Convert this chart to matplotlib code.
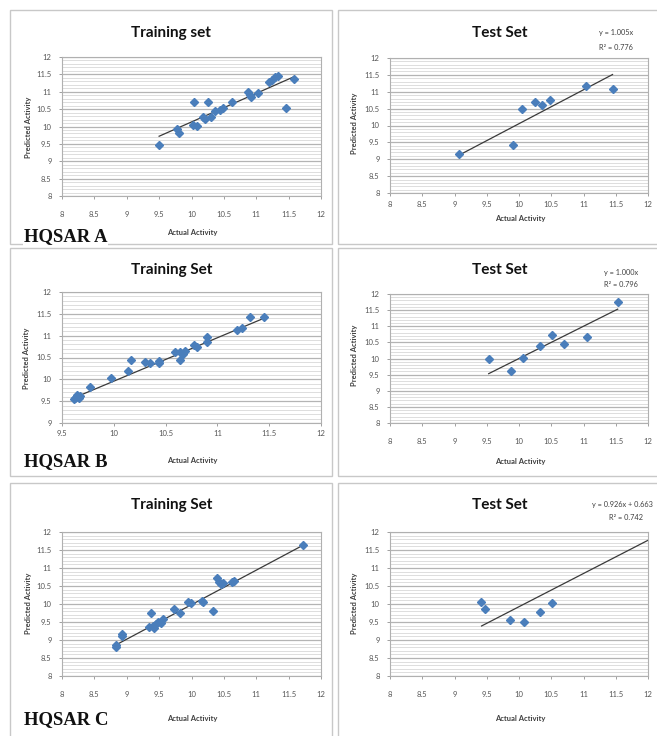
import matplotlib
matplotlib.use("Agg")
import matplotlib.pyplot as plt
from matplotlib.patches import Rectangle
from matplotlib.ticker import MultipleLocator, FormatStrFormatter

W, H = 657, 736

# HQSAR A
a_train_x = [9.50, 9.78, 9.80, 10.04, 10.03, 10.09, 10.17, 10.21, 10.26, 10.30, 10.37, 10.44,
             10.49, 10.62, 10.88, 10.91, 10.92, 11.03, 11.19, 11.24, 11.29, 11.34, 11.46, 11.58]
a_train_y = [9.48, 9.94, 9.80, 10.71, 10.04, 10.01, 10.28, 10.23, 10.71, 10.28, 10.44, 10.47,
             10.53, 10.71, 10.99, 10.92, 10.85, 10.95, 11.28, 11.33, 11.43, 11.45, 10.52, 11.36]
a_train_fit_x = [9.50, 11.58]
a_train_fit_y = [9.72, 11.43]

a_test_x = [9.07, 9.90, 10.04, 10.25, 10.35, 10.48, 11.04, 11.45]
a_test_y = [9.15, 9.41, 10.50, 10.70, 10.60, 10.75, 11.16, 11.09]
a_test_fit_x = [9.07, 11.45]
a_test_fit_y = [9.12, 11.51]

# HQSAR B
b_train_x = [9.62, 9.63, 9.64, 9.66, 9.67, 9.77, 9.97, 10.14, 10.17, 10.30, 10.35, 10.44, 10.44,
             10.59, 10.64, 10.64, 10.67, 10.69, 10.77, 10.80, 10.90, 10.90, 11.19, 11.24, 11.31, 11.45]
b_train_y = [9.54, 9.58, 9.63, 9.57, 9.61, 9.83, 10.02, 10.19, 10.44, 10.40, 10.38, 10.42, 10.38,
             10.63, 10.63, 10.44, 10.59, 10.65, 10.79, 10.75, 10.96, 10.86, 11.13, 11.17, 11.42, 11.42]
b_train_fit_x = [9.62, 11.45]
b_train_fit_y = [9.58, 11.40]

b_test_x = [9.53, 9.87, 10.06, 10.32, 10.51, 10.70, 11.05, 11.53]
b_test_y = [9.99, 9.60, 10.03, 10.39, 10.73, 10.44, 10.68, 11.74]
b_test_fit_x = [9.53, 11.53]
b_test_fit_y = [9.53, 11.53]

# HQSAR C
c_train_x = [8.83, 8.84, 8.92, 8.93, 9.35, 9.37, 9.40, 9.42, 9.45, 9.49, 9.53, 9.56, 9.73, 9.82,
             9.95, 9.99, 10.16, 10.18, 10.33, 10.40, 10.42, 10.45, 10.48, 10.63, 10.66, 11.72]
c_train_y = [8.86, 8.81, 9.16, 9.10, 9.37, 9.74, 9.40, 9.33, 9.44, 9.50, 9.46, 9.57, 9.85, 9.74,
             10.06, 10.02, 10.09, 10.05, 9.81, 10.71, 10.62, 10.55, 10.57, 10.61, 10.65, 11.63]
c_train_fit_x = [8.83, 11.72]
c_train_fit_y = [8.86, 11.63]

c_test_x = [9.41, 9.48, 9.86, 10.07, 10.32, 10.51]
c_test_y = [10.06, 9.85, 9.55, 9.51, 9.78, 10.04]
c_test_fit_x = [9.42, 12.0]
c_test_fit_y = [9.39, 11.77]

BLUE = "#4a7ebb"
SANS = ["Lato", "DejaVu Sans"]

fig = plt.figure(figsize=(W / 100, H / 100), dpi=100)
fig.patch.set_facecolor("white")


def fx(x):
    return x / W


def fy(y):
    return 1 - y / H


def box(x0, x1, y0, y1):
    fig.patches.append(Rectangle((fx(x0), fy(y1)), fx(x1 - x0), (y1 - y0) / H,
                                 transform=fig.transFigure, fill=False,
                                 edgecolor="#c8c8c8", lw=1.0))


def panel(rect, xs, ys, fit_x, fit_y, xlim, ylim, xpad):
    x0, x1, y0, y1 = rect
    ax = fig.add_axes([fx(x0), fy(y1), fx(x1 - x0), (y1 - y0) / H])
    ax.set_facecolor("white")
    ax.set_xlim(*xlim)
    ax.set_ylim(*ylim)
    ax.xaxis.set_major_locator(MultipleLocator(0.5))
    ax.yaxis.set_major_locator(MultipleLocator(0.5))
    ax.yaxis.set_minor_locator(MultipleLocator(0.1))
    ax.xaxis.set_major_formatter(FormatStrFormatter("%g"))
    ax.yaxis.set_major_formatter(FormatStrFormatter("%g"))
    ax.grid(axis="y", which="minor", color="#d8d8d8", lw=0.6)
    ax.grid(axis="y", which="major", color="#b4b4b4", lw=0.9)
    ax.set_axisbelow(True)
    for s in ax.spines.values():
        s.set_color("#b0b0b0")
        s.set_linewidth(0.8)
    ax.tick_params(axis="both", which="major", length=2.5, width=0.6, color="#909090",
                   labelsize=5.5, labelcolor="#555555")
    ax.tick_params(axis="y", which="minor", length=0)
    ax.tick_params(axis="x", pad=xpad)
    ax.tick_params(axis="y", pad=5)
    for lab in ax.get_xticklabels() + ax.get_yticklabels():
        lab.set_family(SANS)
    ax.plot(fit_x, fit_y, color="#3a3a3a", lw=0.9, zorder=2)
    ax.plot(xs, ys, ls="none", marker="D", ms=4.4, color=BLUE, mec=BLUE, zorder=3)
    return ax


def label_text(x, y, s, size, **kw):
    fig.text(fx(x), fy(y), s, fontsize=size, ha="center", va="center", family=SANS, **kw)


# frames around each chart
for top, bot in [(10, 244), (248, 476), (483, 745)]:
    box(10, 332, top, bot)
    box(338, 670, top, bot)

panel((62, 321, 57, 196), a_train_x, a_train_y, a_train_fit_x, a_train_fit_y, (8, 12), (8, 12), 8)
panel((390, 648, 58, 193), a_test_x, a_test_y, a_test_fit_x, a_test_fit_y, (8, 12), (8, 12), 3.5)
panel((62, 321, 292, 423), b_train_x, b_train_y, b_train_fit_x, b_train_fit_y, (9.5, 12), (9, 12), 2.5)
panel((390, 648, 294, 423), b_test_x, b_test_y, b_test_fit_x, b_test_fit_y, (8, 12), (8, 12), 8)
panel((62, 321, 532, 676), c_train_x, c_train_y, c_train_fit_x, c_train_fit_y, (8, 12), (8, 12), 8)
panel((390, 648, 532, 676), c_test_x, c_test_y, c_test_fit_x, c_test_fit_y, (8, 12), (8, 12), 8)

# titles
titles = [("Training set", 171, 33), ("Test Set", 500, 33),
          ("Training Set", 172, 270), ("Test Set", 500, 270),
          ("Training Set", 172, 505), ("Test Set", 500, 505)]
for s, x, y in titles:
    label_text(x, y, s, 11, weight="bold", color="#111111")

# axis labels
for x, y in [(192, 233), (520, 218), (192, 460), (520, 462), (192, 718), (520, 719)]:
    label_text(x, y, "Actual Activity", 5.5, weight="bold", color="#404040")
for x, y in [(29, 127), (354, 123), (27, 358), (355, 355), (29, 603), (355, 603)]:
    label_text(x, y, "Predicted Activity", 5.5, weight="bold", color="#404040", rotation=90)

# trendline equations
label_text(616, 33, "y = 1.005x", 5.3, color="#404040")
label_text(616, 47, "R\u00b2 = 0.776", 5.3, color="#404040")
label_text(621, 272, "y = 1.000x", 5.3, color="#404040")
label_text(621, 284, "R\u00b2 = 0.796", 5.3, color="#404040")
fig.text(fx(653), fy(505), "y = 0.926x + 0.663", fontsize=5.3, ha="right", va="center",
         family=SANS, color="#404040")
label_text(626, 518, "R\u00b2 = 0.742", 5.3, color="#404040")

# model labels
for s, y in [("HQSAR A", 237), ("HQSAR B", 462), ("HQSAR C", 720)]:
    fig.text(fx(24), fy(y), s, fontsize=13.5, weight="bold", ha="left", va="center",
             family=["Liberation Serif", "DejaVu Serif"], color="#111111",
             bbox=dict(facecolor="white", edgecolor="none", pad=0.5))

fig.savefig("out.png", dpi=100)
